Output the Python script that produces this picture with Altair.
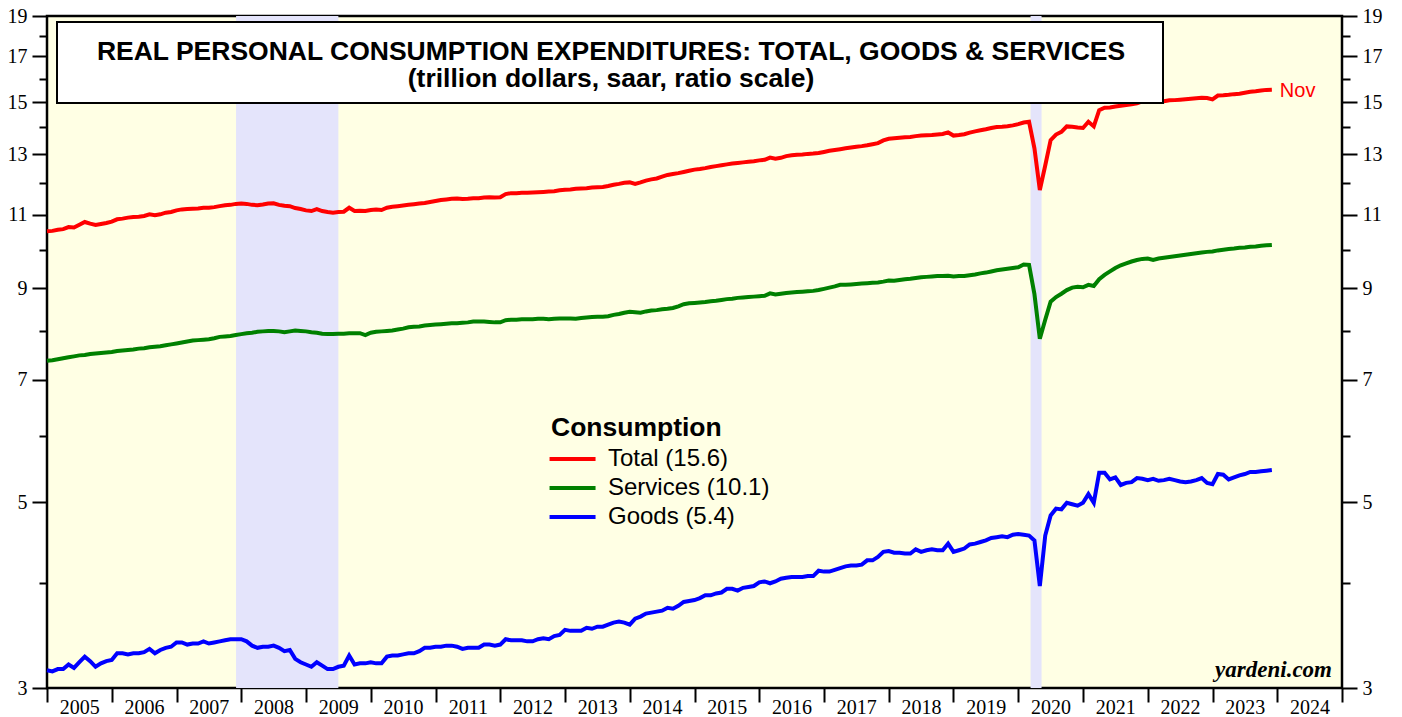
import altair as alt
import pandas as pd

# ---------------- data (monthly, Dec 2004 .. Nov 2023, trillion dollars) ----------------
first_year = 2005
total = [
    10.52,
    10.53, 10.56, 10.58, 10.64, 10.63, 10.71, 10.79, 10.74, 10.70, 10.73, 10.76, 10.80,
    10.87, 10.89, 10.92, 10.94, 10.95, 10.97, 11.02, 10.99, 11.02, 11.07, 11.09, 11.14,
    11.17, 11.18, 11.19, 11.20, 11.22, 11.22, 11.24, 11.27, 11.30, 11.31, 11.34, 11.35,
    11.34, 11.31, 11.30, 11.32, 11.35, 11.36, 11.31, 11.28, 11.27, 11.21, 11.18, 11.14,
    11.12, 11.18, 11.12, 11.09, 11.07, 11.09, 11.10, 11.22, 11.12, 11.13, 11.12, 11.15,
    11.17, 11.15, 11.22, 11.25, 11.27, 11.29, 11.31, 11.33, 11.35, 11.37, 11.40, 11.43,
    11.46, 11.48, 11.50, 11.51, 11.49, 11.50, 11.52, 11.52, 11.54, 11.55, 11.54, 11.55,
    11.65, 11.68, 11.68, 11.69, 11.69, 11.70, 11.71, 11.72, 11.73, 11.74, 11.77, 11.79,
    11.80, 11.82, 11.83, 11.84, 11.86, 11.87, 11.88, 11.91, 11.95, 11.98, 12.02, 12.03,
    11.98, 12.03, 12.09, 12.13, 12.16, 12.22, 12.28, 12.31, 12.34, 12.38, 12.42, 12.46,
    12.48, 12.51, 12.55, 12.58, 12.61, 12.64, 12.67, 12.69, 12.71, 12.73, 12.75, 12.78,
    12.80, 12.88, 12.84, 12.87, 12.93, 12.96, 12.98, 12.99, 13.01, 13.02, 13.04, 13.08,
    13.12, 13.15, 13.18, 13.21, 13.24, 13.27, 13.29, 13.32, 13.36, 13.40, 13.50, 13.56,
    13.58, 13.60, 13.62, 13.63, 13.66, 13.68, 13.69, 13.70, 13.72, 13.74, 13.80, 13.68,
    13.70, 13.73, 13.79, 13.84, 13.88, 13.92, 13.97, 14.01, 14.02, 14.04, 14.07, 14.12,
    14.18, 14.21, 13.21, 11.78, 12.60, 13.51, 13.72, 13.82, 14.03, 14.02, 13.99, 13.97,
    14.21, 14.03, 14.67, 14.77, 14.78, 14.82, 14.85, 14.88, 14.91, 14.95, 15.03, 15.00,
    15.02, 15.00, 15.03, 15.07, 15.08, 15.10, 15.12, 15.14, 15.16, 15.18, 15.17, 15.11,
    15.27, 15.28, 15.30, 15.33, 15.35, 15.39, 15.43, 15.45, 15.48, 15.51, 15.52,
]
services = [
    7.37,
    7.38, 7.40, 7.42, 7.44, 7.46, 7.48, 7.49, 7.51, 7.52, 7.53, 7.54, 7.55,
    7.57, 7.58, 7.59, 7.60, 7.62, 7.63, 7.65, 7.66, 7.67, 7.69, 7.71, 7.73,
    7.75, 7.77, 7.79, 7.80, 7.81, 7.82, 7.84, 7.87, 7.88, 7.89, 7.91, 7.93,
    7.95, 7.96, 7.98, 7.99, 8.00, 8.00, 7.99, 7.97, 7.99, 8.01, 8.00, 7.99,
    7.97, 7.96, 7.94, 7.93, 7.93, 7.94, 7.94, 7.95, 7.95, 7.95, 7.91, 7.96,
    7.98, 7.99, 8.00, 8.01, 8.03, 8.05, 8.08, 8.09, 8.10, 8.12, 8.13, 8.14,
    8.15, 8.16, 8.17, 8.17, 8.18, 8.19, 8.21, 8.21, 8.21, 8.20, 8.19, 8.19,
    8.24, 8.25, 8.25, 8.26, 8.26, 8.26, 8.27, 8.27, 8.26, 8.27, 8.28, 8.28,
    8.28, 8.27, 8.29, 8.30, 8.31, 8.32, 8.32, 8.33, 8.36, 8.38, 8.41, 8.43,
    8.42, 8.41, 8.44, 8.46, 8.47, 8.49, 8.50, 8.52, 8.56, 8.61, 8.63, 8.64,
    8.65, 8.66, 8.68, 8.69, 8.71, 8.73, 8.74, 8.76, 8.77, 8.78, 8.79, 8.80,
    8.81, 8.87, 8.84, 8.86, 8.88, 8.89, 8.90, 8.91, 8.92, 8.93, 8.95, 8.98,
    9.01, 9.04, 9.08, 9.08, 9.09, 9.10, 9.11, 9.12, 9.13, 9.14, 9.16, 9.19,
    9.18, 9.20, 9.22, 9.23, 9.25, 9.27, 9.28, 9.29, 9.30, 9.30, 9.31, 9.29,
    9.30, 9.30, 9.32, 9.34, 9.37, 9.39, 9.42, 9.45, 9.47, 9.49, 9.51, 9.53,
    9.60, 9.59, 8.85, 7.83, 8.25, 8.67, 8.78, 8.86, 8.95, 9.01, 9.03, 9.02,
    9.08, 9.05, 9.22, 9.33, 9.42, 9.51, 9.58, 9.63, 9.68, 9.72, 9.75, 9.76,
    9.72, 9.76, 9.78, 9.80, 9.82, 9.84, 9.86, 9.88, 9.90, 9.92, 9.94, 9.95,
    9.98, 10.00, 10.02, 10.03, 10.05, 10.06, 10.08, 10.09, 10.11, 10.12, 10.13,
]
goods = [
    3.15,
    3.14, 3.16, 3.16, 3.20, 3.17, 3.22, 3.27, 3.23, 3.18, 3.21, 3.23, 3.24,
    3.30, 3.30, 3.29, 3.30, 3.30, 3.31, 3.34, 3.30, 3.33, 3.35, 3.36, 3.40,
    3.40, 3.38, 3.39, 3.39, 3.41, 3.39, 3.40, 3.41, 3.42, 3.43, 3.43, 3.43,
    3.41, 3.37, 3.35, 3.36, 3.36, 3.37, 3.35, 3.32, 3.33, 3.25, 3.22, 3.20,
    3.18, 3.22, 3.19, 3.16, 3.16, 3.18, 3.19, 3.28, 3.20, 3.21, 3.21, 3.22,
    3.21, 3.21, 3.27, 3.28, 3.28, 3.29, 3.30, 3.30, 3.32, 3.35, 3.35, 3.36,
    3.36, 3.37, 3.37, 3.36, 3.34, 3.35, 3.35, 3.35, 3.38, 3.38, 3.37, 3.38,
    3.43, 3.42, 3.42, 3.42, 3.41, 3.41, 3.43, 3.44, 3.43, 3.46, 3.47, 3.52,
    3.51, 3.51, 3.51, 3.54, 3.53, 3.55, 3.55, 3.57, 3.59, 3.60, 3.59, 3.57,
    3.63, 3.65, 3.68, 3.69, 3.70, 3.71, 3.74, 3.73, 3.76, 3.80, 3.81, 3.82,
    3.84, 3.87, 3.87, 3.89, 3.90, 3.94, 3.94, 3.92, 3.95, 3.96, 3.97, 4.01,
    4.02, 4.00, 4.02, 4.05, 4.06, 4.07, 4.07, 4.07, 4.08, 4.08, 4.14, 4.13,
    4.13, 4.15, 4.17, 4.19, 4.20, 4.20, 4.21, 4.26, 4.26, 4.30, 4.36, 4.37,
    4.35, 4.35, 4.34, 4.34, 4.39, 4.36, 4.38, 4.39, 4.38, 4.38, 4.46, 4.36,
    4.38, 4.40, 4.45, 4.46, 4.48, 4.50, 4.53, 4.54, 4.55, 4.54, 4.57, 4.58,
    4.57, 4.56, 4.50, 3.97, 4.56, 4.82, 4.91, 4.90, 4.99, 4.97, 4.95, 4.99,
    5.11, 4.99, 5.42, 5.42, 5.32, 5.35, 5.24, 5.27, 5.28, 5.34, 5.33, 5.31,
    5.33, 5.30, 5.31, 5.33, 5.31, 5.29, 5.28, 5.29, 5.31, 5.34, 5.27, 5.25,
    5.40, 5.39, 5.32, 5.35, 5.38, 5.40, 5.43, 5.43, 5.44, 5.45, 5.46,
]
series_names = ["Total (15.6)", "Services (10.1)", "Goods (5.4)"]
series_colors = ["#FF0000", "#008000", "#0000FF"]
last_month_label = "Nov"

recession_start = [2007.92, 2020.19]
recession_end = [2009.50, 2020.36]

year_ticks = list(range(2005, 2026))
y_major = [3, 5, 7, 9, 11, 13, 15, 17, 19]
y_minor = [4, 6, 8, 10, 12, 14, 16, 18]

title_line1 = "REAL PERSONAL CONSUMPTION EXPENDITURES: TOTAL, GOODS & SERVICES"
title_line2 = "(trillion dollars, saar, ratio scale)"
legend_title = "Consumption"
source_text = "yardeni.com"

# ---------------- build tables ----------------
rows = []
for name, vals in zip(series_names, [total, services, goods]):
    for i, v in enumerate(vals):
        rows.append({"t": first_year + i / 12.0, "v": v, "series": name})
df = pd.DataFrame(rows)
last_total = df[df["series"] == series_names[0]].tail(1).assign(lab=last_month_label)
rec_df = pd.DataFrame({"s": recession_start, "e": recession_end})
one = pd.DataFrame({"k": [0]})

W, H = 1295, 672
xscale = alt.Scale(domain=[2005, 2025], nice=False, zero=False)
yscale = alt.Scale(type="log", domain=[3, 19], nice=False)

def yaxis(values, orient, labels, tick):
    return alt.Axis(values=values, orient=orient, labels=labels, tickSize=tick,
                    title=None, labelPadding=5, labelFlush=False,
                    labelOverlap=False, labelBound=False, grid=False, domain=False)

rec = alt.Chart(rec_df).mark_rect(color="#E4E4FB").encode(
    x=alt.X("s:Q", scale=xscale, axis=None), x2="e:Q")

lines = alt.Chart(df).mark_line(strokeWidth=4).encode(
    x=alt.X("t:Q", scale=xscale,
            axis=alt.Axis(values=year_ticks, format="d", orient="bottom",
                          labelExpr="datum.value < 2025 ? datum.label : ''",
                          labelOffset=32.35, tickSize=14, labelPadding=-5,
                          labelFlush=False, labelOverlap=False, labelBound=False,
                          title=None, grid=False, domain=False)),
    y=alt.Y("v:Q", scale=yscale, axis=yaxis(y_major, "left", True, 15)),
    color=alt.Color("series:N",
                    scale=alt.Scale(domain=series_names, range=series_colors),
                    legend=alt.Legend(title=legend_title, orient="none",
                                      legendX=504, legendY=399)),
    detail="series:N",
)

def ghost(values, orient, labels, tick):
    return alt.Chart(df).mark_line(opacity=0).encode(
        x=alt.X("t:Q", scale=xscale, axis=None),
        y=alt.Y("v:Q", scale=yscale, axis=yaxis(values, orient, labels, tick)),
        detail="series:N")

g1 = ghost(y_minor, "left", False, 8)
g2 = ghost(y_major, "right", True, 15)
g3 = ghost(y_minor, "right", False, 8)

box = alt.Chart(one).mark_rect(fill="white", stroke="black", strokeWidth=2).encode(
    x=alt.value(10), x2=alt.value(1116), y=alt.value(6), y2=alt.value(87))
t1 = alt.Chart(one).mark_text(font="Liberation Sans", fontWeight="bold", fontSize=26.5,
                              align="center", baseline="middle").encode(
    x=alt.value(564), y=alt.value(35.5), text=alt.value(title_line1))
t2 = alt.Chart(one).mark_text(font="Liberation Sans", fontWeight="bold", fontSize=26.5,
                              align="center", baseline="middle").encode(
    x=alt.value(564), y=alt.value(62.5), text=alt.value(title_line2))
src = alt.Chart(one).mark_text(font="Liberation Serif", fontWeight="bold", fontStyle="italic",
                               fontSize=23, align="right", baseline="alphabetic").encode(
    x=alt.value(1285), y=alt.value(661), text=alt.value(source_text))
nov = alt.Chart(last_total).mark_text(font="Liberation Sans", fontSize=20, color="#FF0000",
                                      align="left", baseline="middle", dx=8, dy=1).encode(
    x=alt.X("t:Q", scale=xscale, axis=None),
    y=alt.Y("v:Q", scale=yscale, axis=None),
    text="lab:N")

chart = alt.layer(rec, lines, g1, g2, g3, box, t1, t2, src, nov).resolve_axis(
    x="independent", y="independent"
).properties(
    width=W, height=H,
    autosize=alt.AutoSizeParams(type="none"),
    padding={"left": 39, "top": 8, "right": 52, "bottom": 29},
    background="white",
).configure_view(
    fill="#FFFFE4", stroke="black", strokeWidth=2.5
).configure_axis(
    labelFont="Liberation Serif", labelFontSize=20, labelColor="black",
    tickColor="black", tickWidth=2,
).configure_legend(
    titleFont="Liberation Sans", titleFontSize=26.5, titleFontWeight="bold", titleColor="black",
    labelFont="Liberation Sans", labelFontSize=24, labelColor="black", labelLimit=400,
    symbolType="M-1.3,0H2.7", symbolSize=529, symbolStrokeWidth=4,
    labelOffset=30, rowPadding=3, titlePadding=4, padding=0,
)

chart.save("out.html", embed_options={"renderer": "svg", "actions": False})
